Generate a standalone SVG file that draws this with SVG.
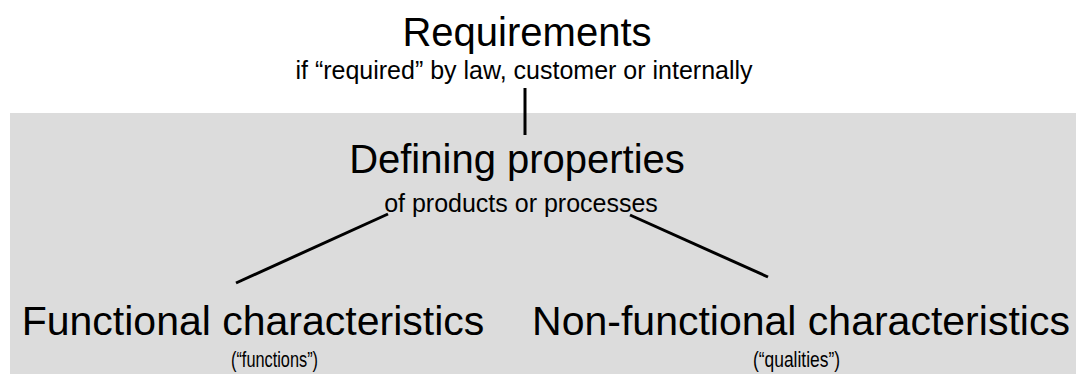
<svg xmlns="http://www.w3.org/2000/svg" width="1076" height="374" viewBox="0 0 1076 374">
<style>
text{font-family:"Liberation Sans",Arial,sans-serif;fill:#000;text-anchor:middle}
.h{font-size:40px}
.h2{font-size:41px}
.s{font-size:25px}
.l{font-size:22px}
.c{stroke:#000;stroke-width:3;fill:none}
</style>
<rect x="10" y="113" width="1066" height="261" fill="#dcdcdc"/>
<g id="connectors">
<line class="c" x1="525" y1="88" x2="525" y2="135"/>
<line class="c" x1="388" y1="214" x2="236" y2="283"/>
<line class="c" x1="630" y1="215" x2="768" y2="277"/>
</g>
<g id="requirements">
<text class="h" x="527" y="46">Requirements</text>
<text class="s" x="524" y="79">if “required” by law, customer or internally</text>
</g>
<g id="defining">
<text class="h" x="517" y="173">Defining properties</text>
<text class="s" x="521" y="212">of products or processes</text>
</g>
<g id="functional">
<text class="h2" x="253" y="335">Functional characteristics</text>
<text class="l" x="274.5" y="367" textLength="87" lengthAdjust="spacingAndGlyphs">(“functions”)</text>
</g>
<g id="nonfunctional">
<text class="h2" x="801" y="335">Non-functional characteristics</text>
<text class="l" x="796.5" y="367" textLength="87" lengthAdjust="spacingAndGlyphs">(“qualities”)</text>
</g>
</svg>
